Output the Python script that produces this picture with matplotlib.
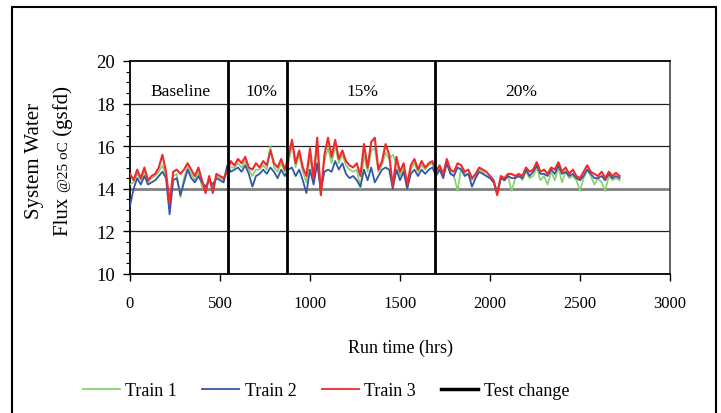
import matplotlib
matplotlib.use("Agg")
import matplotlib.pyplot as plt
from matplotlib.patches import Rectangle
from matplotlib.ticker import MultipleLocator

plt.rcParams['font.family'] = ['Liberation Serif', 'DejaVu Serif']

hours = list(range(0, 2721, 20))

train1 = [
    14.2, 14.3, 14.7, 14.4, 14.8, 14.3, 14.5, 14.6, 14.8, 15.1,
    14.6, 13.4, 14.6, 14.7, 13.6, 14.5, 15.0, 14.7, 14.4, 14.8,
    14.1, 14.0, 14.5, 14.0, 14.6, 14.5, 14.4, 15.0,
    15.0, 15.0, 15.2, 15.0, 15.3, 14.9, 14.6, 14.9, 14.9, 15.1,
    14.9, 16.0, 15.0, 14.8, 15.2, 14.8,
    15.2, 16.1, 15.0, 15.6, 14.8, 14.3, 15.5, 14.4, 16.0, 14.0,
    15.3, 15.9, 15.2, 16.0, 15.2, 15.6, 15.1, 14.9, 14.8, 14.9,
    14.0, 15.6, 14.8, 15.8, 15.9, 14.8, 15.1, 15.7, 15.4, 15.6,
    15.2, 14.6, 15.0, 14.0, 14.9, 15.2, 14.8, 15.1, 14.9, 15.1,
    15.2,
    14.7, 15.0, 14.6, 15.3, 14.8, 14.6, 13.9, 15.0, 14.7, 14.7,
    14.4, 14.6, 14.9, 14.8, 14.6, 14.5, 14.4, 13.9, 14.5, 14.4,
    14.6, 13.9, 14.5, 14.6, 14.4, 14.8, 14.5, 14.6, 15.0, 14.4,
    14.6, 14.2, 14.8, 14.4, 15.0, 14.3, 14.8, 14.5, 14.6, 14.4,
    13.9, 14.5, 14.9, 14.6, 14.2, 14.5, 14.3, 13.9, 14.6, 14.4,
    14.5, 14.4,
]

train2 = [
    13.2, 14.0, 14.5, 14.2, 14.6, 14.2, 14.3, 14.4, 14.6, 14.8,
    14.5, 12.8, 14.4, 14.5, 13.7, 14.3, 14.9, 14.5, 14.3, 14.6,
    14.3, 14.1, 14.4, 14.2, 14.5, 14.4, 14.3, 15.1,
    14.8, 14.9, 15.0, 14.8, 15.1, 14.7, 14.1, 14.6, 14.7, 14.9,
    14.7, 15.0, 14.8, 14.5, 14.9, 14.6,
    14.9, 15.0, 14.6, 14.9, 14.4, 13.8, 14.9, 14.2, 15.2, 13.9,
    14.8, 14.9, 14.8, 15.3, 14.9, 15.2, 14.7, 14.5, 14.6, 14.4,
    14.1, 14.9, 14.4, 15.0, 14.3, 14.6, 14.9, 15.0, 14.9, 14.0,
    14.9, 14.4, 14.8, 14.0, 14.7, 14.9, 14.6, 14.9, 14.7, 14.9,
    15.0,
    14.6, 14.9, 14.5, 15.2, 14.7, 14.6, 15.0, 14.9, 14.6, 14.7,
    14.1, 14.5, 14.8, 14.7, 14.6, 14.5, 14.3, 13.8, 14.5, 14.4,
    14.6, 14.5, 14.5, 14.6, 14.5, 14.9, 14.6, 14.8, 15.1, 14.7,
    14.7, 14.6, 14.9, 14.7, 15.1, 14.7, 14.8, 14.6, 14.7, 14.5,
    14.4, 14.6, 14.9, 14.7, 14.5, 14.5, 14.6, 14.4, 14.7, 14.5,
    14.6, 14.5,
]

train3 = [
    14.7, 14.4, 14.9, 14.5, 15.0, 14.4, 14.6, 14.7, 15.0, 15.6,
    14.8, 13.3, 14.8, 14.9, 14.7, 14.9, 15.2, 14.9, 14.6, 15.0,
    14.4, 13.8, 14.6, 13.8, 14.7, 14.6, 14.5, 14.8,
    15.3, 15.1, 15.4, 15.2, 15.5, 15.0, 14.9, 15.2, 15.0, 15.3,
    15.1, 15.8, 15.2, 15.0, 15.4, 14.9,
    15.5, 16.3, 15.2, 15.8, 15.0, 14.6, 15.9, 14.5, 16.4, 13.7,
    15.6, 16.4, 15.5, 16.3, 15.4, 15.8, 15.3, 15.1, 15.0, 15.2,
    14.6, 16.1, 15.0, 16.2, 16.4, 14.9, 15.3, 16.1, 15.6, 14.1,
    15.5, 14.8, 15.2, 14.2, 15.1, 15.4, 14.9, 15.3, 15.0, 15.2,
    15.3,
    14.8, 15.1, 14.7, 15.4, 14.9, 14.8, 15.2, 15.1, 14.8, 14.9,
    14.5, 14.7, 15.0, 14.9, 14.8, 14.6, 14.4, 13.7, 14.6, 14.5,
    14.7, 14.7, 14.6, 14.7, 14.6, 15.0, 14.8, 14.9, 15.25, 14.8,
    14.9, 14.7, 15.0, 14.9, 15.25, 14.8, 15.0, 14.7, 14.9, 14.6,
    14.5, 14.8, 15.1, 14.8, 14.7, 14.6, 14.8, 14.5, 14.8, 14.6,
    14.75, 14.6,
]

test_changes = [544, 872, 1694]
phase_labels = ["Baseline", "10%", "15%", "20%"]
phase_label_x = [278, 728, 1289, 2172]
series_names = ["Train 1", "Train 2", "Train 3"]
series_colors = ["#86d06e", "#3556a8", "#ee2a2e"]

W, H = 721, 414
fig = plt.figure(figsize=(W / 100, H / 100), dpi=100)

# outer frame
fig.patches.append(Rectangle((12 / W, -0.1), (716 - 12) / W, (1 - 8 / H) + 0.1,
                             transform=fig.transFigure, fill=False,
                             edgecolor='black', linewidth=1.5))

ax = fig.add_axes([130 / W, 1 - 275 / H, 540 / W, 213 / H])
ax.set_xlim(0, 3000)
ax.set_ylim(10, 20)

for y in [12, 16, 18]:
    ax.axhline(y, color='#222222', lw=0.9, zorder=1)
ax.axhline(14, color='#808080', lw=2.0, zorder=1)

lines = []
for vals, name, col, lw in zip([train1, train2, train3], series_names, series_colors, [1.2, 1.3, 1.5]):
    n = min(len(hours), len(vals))
    l, = ax.plot(hours[:n], vals[:n], color=col, lw=lw, label=name, zorder=3)
    lines.append(l)

for i, xc in enumerate(test_changes):
    l = ax.axvline(xc, color='black', lw=2.0, zorder=4, label='Test change' if i == 0 else None)
    if i == 0:
        lines.append(l)

for txt, xp in zip(phase_labels, phase_label_x):
    ax.text(xp, 18.6, txt, ha='center', va='center', fontsize=12.5)

for s in ['left', 'bottom', 'top']:
    ax.spines[s].set_linewidth(1.3)
    ax.spines[s].set_color('black')
ax.spines['right'].set_color('#444444')
ax.spines['right'].set_linewidth(1.2)

ax.xaxis.set_major_locator(MultipleLocator(500))
ax.yaxis.set_major_locator(MultipleLocator(2))
ax.yaxis.set_minor_locator(MultipleLocator(0.5))
ax.tick_params(axis='both', which='major', direction='out', length=5, width=1, pad=6)
ax.tick_params(axis='y', which='major', labelsize=13.5)
ax.tick_params(axis='x', which='major', labelsize=12, pad=10)
ax.tick_params(axis='y', which='minor', direction='out', length=3, width=0.8)

ax.set_xlabel('Run time (hrs)', fontsize=13, labelpad=20)

# y label
fig.text(34 / W, 1 - 161 / H, 'System Water', rotation=90, ha='center', va='center', fontsize=15)

fig.canvas.draw()
renderer = fig.canvas.get_renderer()
pieces = [("Flux ", 15), ("@25 oC", 11), (" (gsfd)", 15)]
tmp = []
total = 0
for s, fs in pieces:
    t = fig.text(0, 0, s, fontsize=fs, rotation=90, rotation_mode='anchor', ha='left', va='baseline')
    bb = t.get_window_extent(renderer)
    total += bb.height
    tmp.append(t)
for t in tmp:
    t.remove()
x_base = 68
cur = (H - 161) - total / 2
for s, fs in pieces:
    t = fig.text(x_base / W, cur / H, s, fontsize=fs, rotation=90, rotation_mode='anchor',
                 ha='left', va='baseline')
    bb = t.get_window_extent(renderer)
    cur += bb.height

leg = fig.legend(handles=lines, labels=series_names + ['Test change'], loc='center',
                 bbox_to_anchor=(326 / W, 1 - 392 / H), ncol=4, frameon=False, fontsize=13,
                 handlelength=2.05, columnspacing=1.4, handletextpad=0.3)
for h in leg.legend_handles[:3]:
    h.set_linewidth(1.3)
leg.legend_handles[3].set_linewidth(2.5)

fig.savefig('out.png', dpi=100)
